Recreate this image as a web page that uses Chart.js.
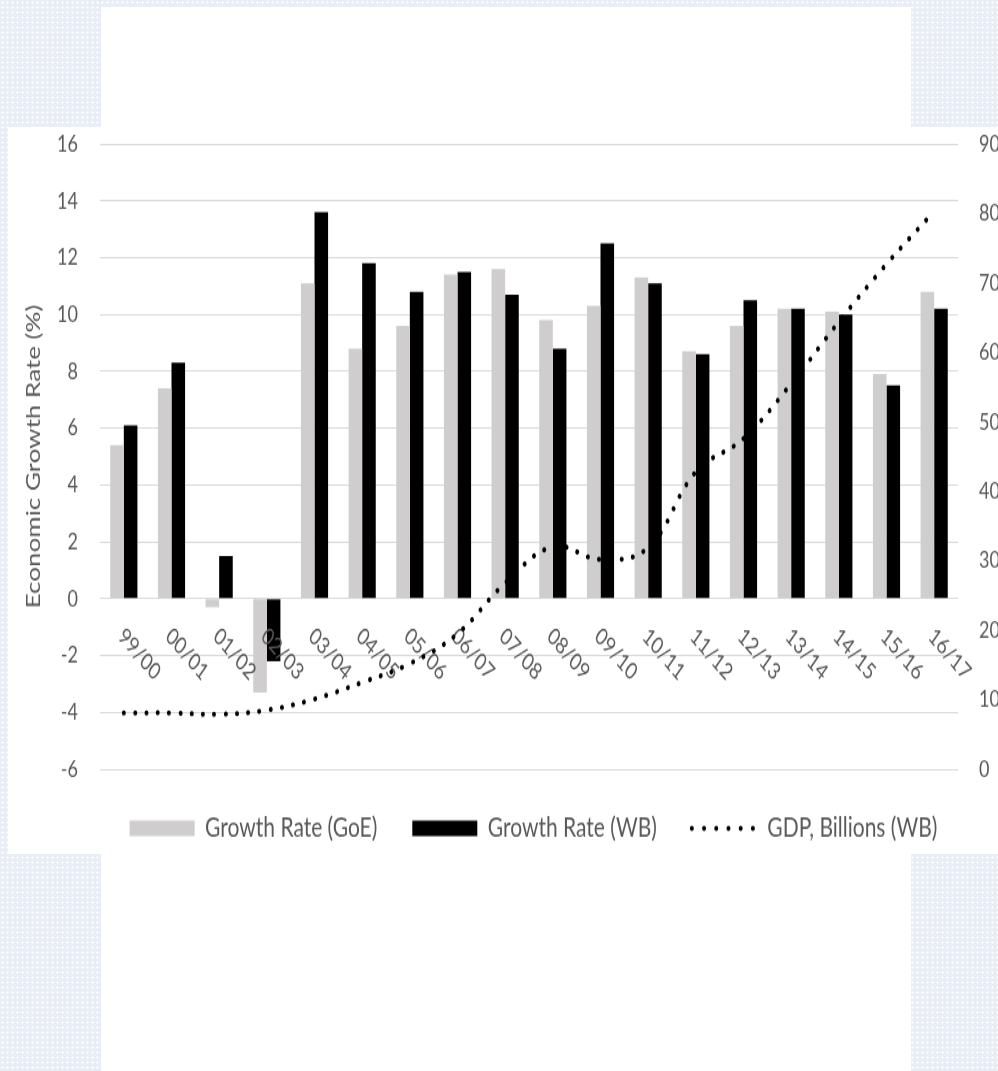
<!DOCTYPE html>
<html>
<head>
<meta charset="utf-8">
<script src="https://cdn.jsdelivr.net/npm/chart.js@4.4.0/dist/chart.umd.min.js"></script>
<style>
  html, body { margin: 0; padding: 0; width: 998px; height: 1071px; overflow: hidden; }
  body {
    position: relative;
    background-color: #e8edf6;
    background-image: radial-gradient(circle, #ffffff 0.9px, transparent 1.3px);
    background-size: 5px 5px;
  }
  #sheet { position: absolute; left: 101px; top: 7px; width: 810px; height: 1064px; background: #fff; }
  #panel { position: absolute; left: 8px; top: 127px; width: 990px; height: 727px; background: #fff; }
  /* the source picture is squeezed sideways, so the chart is drawn short and stretched */
  #wrap { position: absolute; left: 8px; top: 127px; width: 1051px; height: 560px; transform: scaleY(1.3); transform-origin: 0 0; }
</style>
</head>
<body>
<div id="sheet"></div>
<div id="panel"></div>
<div id="wrap"><canvas id="myChart" width="1051" height="560"></canvas></div>
<script>
// data
const years = ["99/00", "00/01", "01/02", "02/03", "03/04", "04/05", "05/06", "06/07", "07/08",
               "08/09", "09/10", "10/11", "11/12", "12/13", "13/14", "14/15", "15/16", "16/17"];
const growthGoE = [5.4, 7.4, -0.3, -3.3, 11.1, 8.8, 9.6, 11.4, 11.6, 9.8, 10.3, 11.3, 8.7, 9.6, 10.2, 10.1, 7.9, 10.8];
const growthWB = [6.1, 8.3, 1.5, -2.2, 13.6, 11.8, 10.8, 11.5, 10.7, 8.8, 12.5, 11.1, 8.6, 10.5, 10.2, 10.0, 7.5, 10.2];
const gdpWB = [8.1, 8.1, 7.9, 8.5, 10.1, 12.5, 15.2, 19.5, 26.8, 32.0, 30.2, 31.9, 42.8, 47.6, 55.5, 64.4, 72.7, 80.3];
const rateTicks = [-6, -4, -2, 0, 2, 4, 6, 8, 10, 12, 14, 16];
const gdpTicks = [0, 10, 20, 30, 40, 50, 60, 70, 80, 90];

const textGrey = "#595959";
const font = "Lato";

// category labels sit slanted just under the zero line, like the Excel chart
const slantedLabels = {
    id: "slantedLabels",
    afterDatasetDraw(chart, args) {
        if (args.index !== 0) return;
        const ctx = chart.ctx;
        const xs = chart.scales.x;
        const y0 = chart.scales.y.getPixelForValue(0);
        ctx.save();
        ctx.font = "18px " + font;
        ctx.fillStyle = textGrey;
        ctx.textAlign = "left";
        ctx.textBaseline = "middle";
        years.forEach((lab, i) => {
            ctx.save();
            ctx.translate(xs.getPixelForValue(i) - 3, y0 + 26);
            ctx.rotate(42 * Math.PI / 180);
            ctx.fillText(lab, 0, 0);
            ctx.restore();
        });
        ctx.restore();
    },
};

// fixed axis widths, and no extra top/bottom room from the tick padding
function fixAxis(width) {
    return (scale) => {
        scale.width = width;
        scale.paddingTop = 0;
        scale.paddingBottom = 0;
    };
}

const ctx = document.getElementById("myChart").getContext("2d");
const myChart = new Chart(ctx, {
    type: "bar",
    data: {
        labels: years,
        datasets: [
            {
                label: "Growth Rate (GoE)",
                data: growthGoE,
                backgroundColor: "#cfcdcd",
                order: 1,
            },
            {
                label: "Growth Rate (WB)",
                data: growthWB,
                backgroundColor: "#000000",
                order: 1,
            },
            {
                type: "line",
                label: "GDP, Billions (WB)",
                data: gdpWB,
                yAxisID: "y2",
                borderColor: "#000000",
                backgroundColor: "#000000",
                borderWidth: 4,
                borderDash: [0.01, 11.3],
                borderCapStyle: "round",
                tension: 0.4,
                pointRadius: 0,
                fill: false,
                order: 0,
            },
        ],
    },
    options: {
        responsive: false,
        animation: false,
        layout: { padding: { top: 13, bottom: 0, left: 0, right: 0 } },
        datasets: {
            bar: { barPercentage: 1, categoryPercentage: 0.57 },
        },
        plugins: {
            tooltip: { enabled: false },
            legend: {
                position: "bottom",
                labels: {
                    usePointStyle: true,
                    pointStyleWidth: 65,
                    boxHeight: 12,
                    padding: 35,
                    color: textGrey,
                    font: { family: font, size: 21 },
                    sort: (a, b) => a.datasetIndex - b.datasetIndex,
                    generateLabels(chart) {
                        const items = Chart.defaults.plugins.legend.labels.generateLabels(chart);
                        return items.map((item) => {
                            if (item.datasetIndex < 2) {
                                item.pointStyle = "rect";
                                item.lineWidth = 0;
                                item.lineDash = [];
                            } else {
                                item.pointStyle = "line";
                                item.lineWidth = 4;
                                item.lineCap = "round";
                                item.lineDash = [0.01, 12.2];
                                item.strokeStyle = "#000000";
                            }
                            return item;
                        });
                    },
                },
            },
        },
        scales: {
            x: { display: false },
            y: {
                position: "left",
                min: rateTicks[0],
                max: rateTicks[rateTicks.length - 1],
                afterBuildTicks(scale) {
                    scale.ticks = rateTicks.map((v) => ({ value: v }));
                },
                ticks: {
                    color: textGrey,
                    font: { family: font, size: 18 },
                    padding: 22,
                },
                grid: { color: "#d9d9d9", lineWidth: 1, drawTicks: false },
                border: { display: false },
                title: {
                    display: true,
                    text: "Economic Growth Rate (%)",
                    color: textGrey,
                    font: { family: font, size: 20 },
                    padding: { top: 13.5, bottom: 0 },
                },
                afterFit: fixAxis(92),
            },
            y2: {
                position: "right",
                min: gdpTicks[0],
                max: gdpTicks[gdpTicks.length - 1],
                afterBuildTicks(scale) {
                    scale.ticks = gdpTicks.map((v) => ({ value: v }));
                },
                ticks: {
                    color: textGrey,
                    font: { family: font, size: 18 },
                    padding: 21,
                },
                grid: { display: false, drawTicks: false },
                border: { display: false },
                afterFit: fixAxis(101),
            },
        },
    },
    plugins: [slantedLabels],
});
</script>
</body>
</html>
